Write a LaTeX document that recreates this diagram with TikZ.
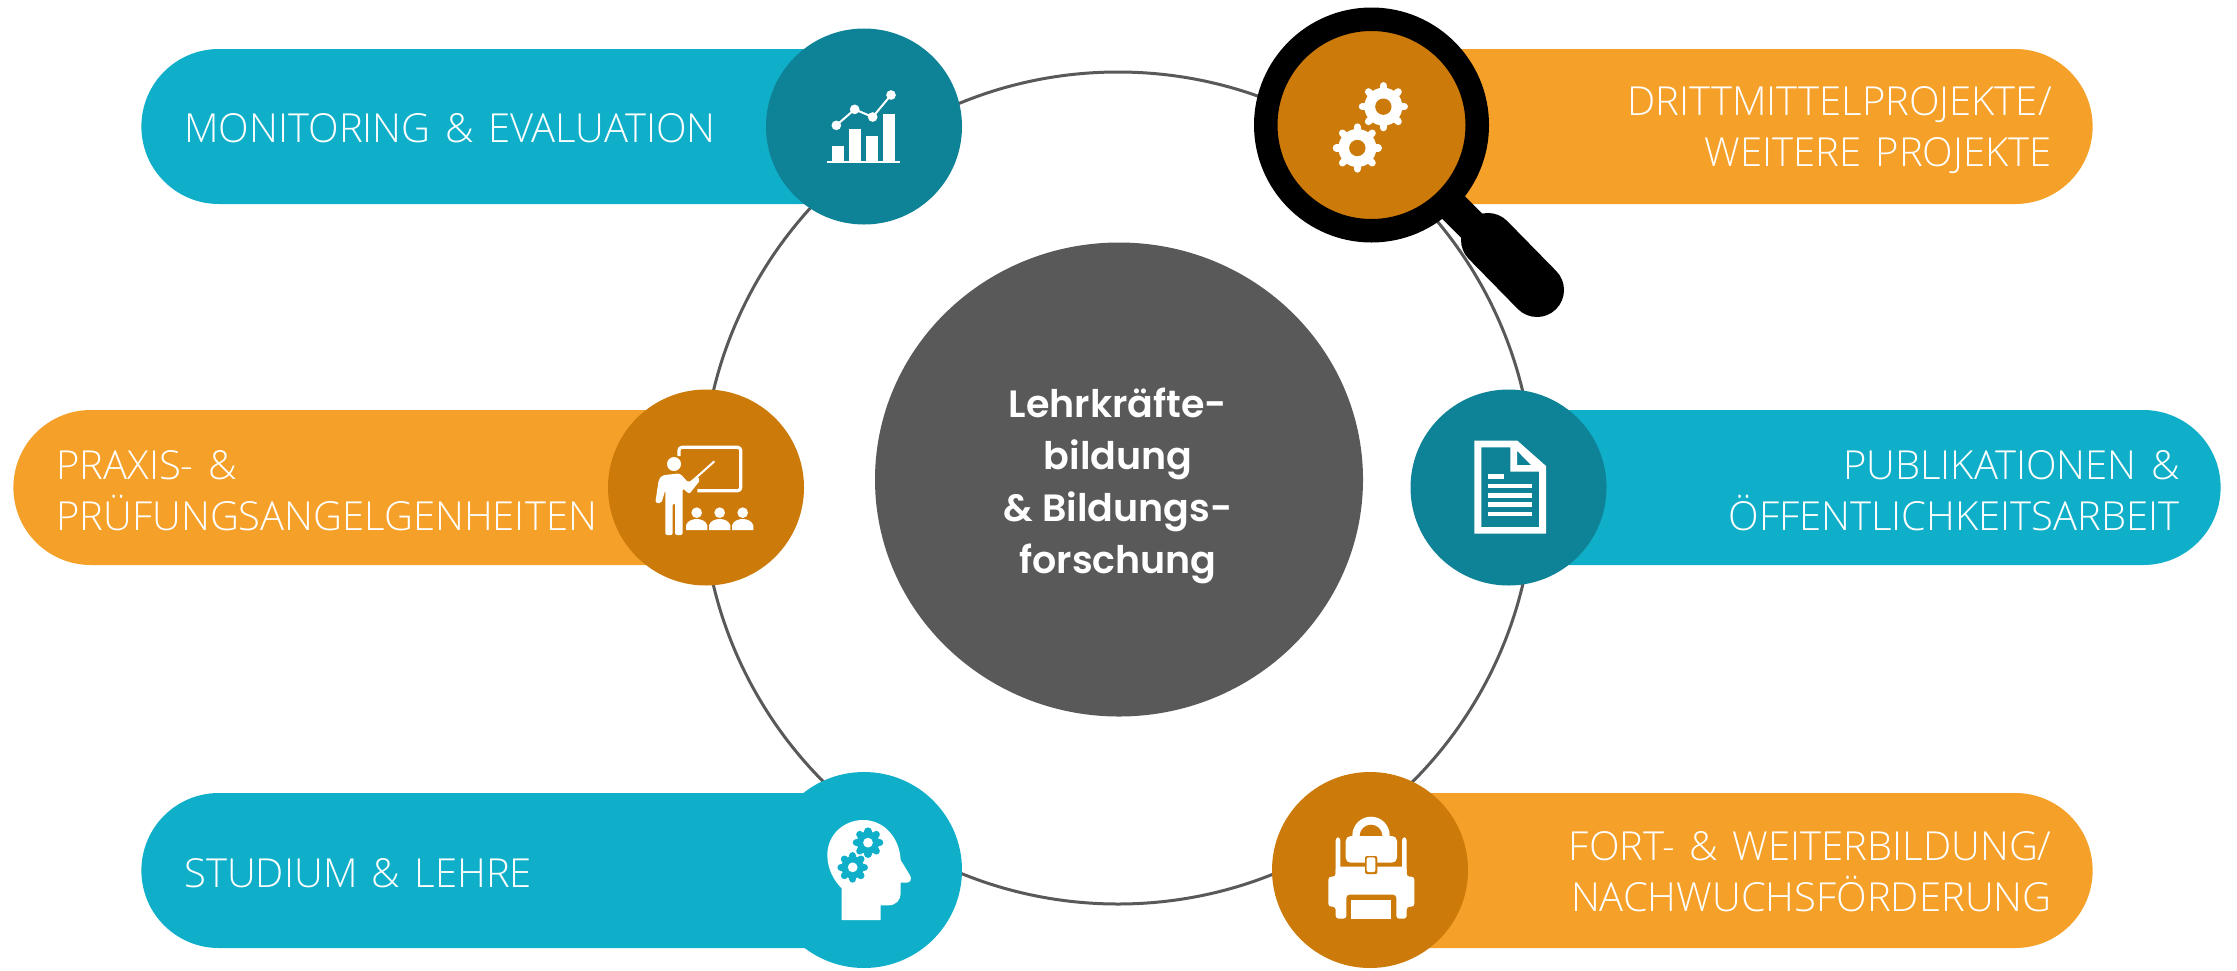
\documentclass[tikz,border=0pt]{standalone}
\usepackage{fontspec}
\usetikzlibrary{shapes.geometric}
\setmainfont{Open Sans Light}[BoldFont={Open Sans Bold}]
\newfontfamily\hubfont{Poppins SemiBold}
\newcommand{\lblfont}{\fontsize{20}{25.5}\selectfont\setlength{\spaceskip}{0.36em}}
\definecolor{teal1}{HTML}{10AFC9}
\definecolor{teal2}{HTML}{0E8296}
\definecolor{orange1}{HTML}{F5A028}
\definecolor{orange2}{HTML}{CC7A09}
\definecolor{gray1}{HTML}{595959}
\tikzset{
  pill/.style={rectangle,rounded corners=38.7pt,minimum height=77.5pt,inner sep=0pt,fill=#1},
  disc/.style={circle,minimum size=98pt,inner sep=0pt,fill=#1},
  lbl/.style={text=white,inner sep=0pt,font=\lblfont},
  zc/.style 2 args={shift={(#1,#2)},x=0.16667pt,y=-0.16667pt},
}
\newcommand{\gearicon}[6]{% x y body outer gearcolor holecolor
  \begin{scope}[shift={(#1,#2)}]
    \fill[#5] (0,0) circle (#3);
    \foreach \a in {0,45,...,315}{
      \draw[#5,line width=3.6pt,line cap=round] (\a:#3) -- (\a:{#4-10});
    }
    \fill[#6] (0,0) circle ({#3*0.43});
  \end{scope}
}
\begin{document}
\begin{tikzpicture}[x=0.5pt,y=-0.5pt]
\useasboundingbox (0,0) rectangle (2237,970);
% ring and hub
\node[circle,draw=gray1,line width=1.5pt,minimum size=416pt,inner sep=0pt] (ring) at (1118,488) {};
\node[ellipse,fill=gray1,minimum width=244pt,minimum height=237pt,inner sep=0pt] (hub) at (1119,479.5) {};
\node[text=white,align=center,inner sep=0pt,font=\fontsize{19}{26}\selectfont\hubfont] (hubtext) at (1118,486) {Lehrkräfte-\\bildung\\\& Bildungs-\\forschung};
% pills
\node[pill=teal1,anchor=west,minimum width=391.5pt] (p1) at (141,126.5) {};
\node[pill=orange1,anchor=east,minimum width=391.5pt] (p2) at (2093,126.5) {};
\node[pill=orange1,anchor=west,minimum width=376.5pt] (p3) at (13,487.5) {};
\node[pill=teal1,anchor=east,minimum width=386.5pt] (p4) at (2221,487.5) {};
\node[pill=teal1,anchor=west,minimum width=391.5pt] (p5) at (141,870.5) {};
\node[pill=orange1,anchor=east,minimum width=391.5pt] (p6) at (2093,870.5) {};
% discs
\node[disc=teal2] (d1) at (864,126.5) {};
\node[disc=orange2] (d3) at (706,487.5) {};
\node[disc=teal2] (d4) at (1508.5,487.5) {};
\node[disc=teal1] (d5) at (864,870) {};
\node[disc=orange2] (d6) at (1370,870) {};
% labels
\node[lbl,anchor=west] (t1) at (184,128) {MONITORING \& EVALUATION};
\node[lbl,anchor=east,align=right] (t2) at (2052,130) {DRITTMITTELPROJEKTE/\\WEITERE PROJEKTE};
\node[lbl,anchor=west,align=left] (t3) at (56,491) {PRAXIS- \&\\PRÜFUNGSANGELGENHEITEN};
\node[lbl,anchor=east,align=right] (t4) at (2180,491) {PUBLIKATIONEN \&\\ÖFFENTLICHKEITSARBEIT};
\node[lbl,anchor=west] (t5) at (184,873) {STUDIUM \& LEHRE};
\node[lbl,anchor=east,align=right] (t6) at (2052,872) {FORT- \& WEITERBILDUNG/\\NACHWUCHSFÖRDERUNG};
% magnifier
\draw[black,line width=16pt] (1440,194) -- (1475,229);
\draw[black,line width=27pt,line cap=round] (1488,240) -- (1537,290);
\node[circle,fill=orange2,draw=black,line width=11.75pt,minimum size=105.75pt,inner sep=0pt,outer sep=0pt] (d2) at (1371.5,125) {};
% chart icon
\begin{scope}[zc={740}{0}]
  \fill[white] (262,483) rectangle (480,489);
  \fill[white] (276,437) rectangle (311,484);
  \fill[white] (327,387) rectangle (362,484);
  \fill[white] (378,409) rectangle (413,484);
  \fill[white] (429,343) rectangle (465,484);
  \draw[white,line width=1pt] (289,376) -- (344,328) -- (398,351) -- (453,285);
  \foreach \p in {(289,376),(344,328),(398,351),(453,285)} \fill[white] \p circle (14.5);
\end{scope}
% gears in the magnifier
\begin{scope}[zc={1240}{0}]
  \gearicon{430}{320}{57}{73}{white}{orange2}
  \gearicon{352}{444}{57}{73}{white}{orange2}
\end{scope}
% teacher icon
\begin{scope}[zc={600}{380}]
  \draw[white,line width=1.6pt,rounded corners=1.5pt] (237,228) -- (237,202) -- (422,202) -- (422,332) -- (292,332);
  \fill[white] (222,252) circle (21);
  \fill[white,rounded corners=1pt] (186,286) -- (240,280) -- (265,308) -- (290,288) -- (301,300) -- (268,342) -- (248,325) -- (248,465) -- (225,465) -- (225,370) -- (218,370) -- (218,465) -- (196,465) -- (196,330) -- (184,370) -- (166,368) -- (176,300) -- cycle;
  \draw[white,line width=1pt,line cap=round] (285,296) -- (342,245);
  \foreach \c in {290,359,428}{
    \fill[white] (\c,398) circle (16);
    \fill[white] ({\c-32},450) -- ({\c-32},436) .. controls ({\c-28},422) and ({\c-12},417) .. (\c,417) .. controls ({\c+12},417) and ({\c+28},422) .. ({\c+32},436) -- ({\c+32},450) -- cycle;
  }
\end{scope}
% document icon
\begin{scope}[zc={1400}{380}]
  \fill[white,even odd rule] (223,182) -- (352,182) -- (438,258) -- (438,461) -- (223,461) -- cycle
     (244,202) -- (331,202) -- (331,275) -- (417,275) -- (417,441) -- (244,441) -- cycle
     (351,212) -- (393,255) -- (351,255) -- cycle;
  \fill[white] (264,282) rectangle (311,297);
  \foreach \y in {311,339,367,395} \fill[white] (264,\y) rectangle (396,\y+14);
\end{scope}
% head icon
\begin{scope}[zc={780}{760}]
  \fill[white] (185,480) -- (302,480) -- (302,436) -- (325,436) .. controls (350,436) and (362,418) .. (362,400) -- (362,368) -- (380,368) .. controls (392,368) and (396,355) .. (390,346) -- (362,300) .. controls (358,230) and (310,180) .. (250,180) .. controls (190,180) and (142,225) .. (142,285) .. controls (142,325) and (160,360) .. (185,385) -- cycle;
  \gearicon{264}{248}{34}{45}{teal1}{white}
  \gearicon{218}{322}{34}{45}{teal1}{white}
\end{scope}
% backpack icon
\begin{scope}[zc={1265}{760}]
  \fill[white] (262,235) -- (262,226) arc[start angle=180,end angle=360,radius=56] -- (374,235) -- cycle;
  \fill[orange2] (284,228) arc[start angle=180,end angle=360,radius=34] -- cycle;
  \fill[white,rounded corners=1.5pt] (212,350) -- (212,232) -- (226,232) -- (226,350) -- cycle;
  \fill[white,rounded corners=1.5pt] (411,350) -- (411,232) -- (425,232) -- (425,350) -- cycle;
  \fill[white,rounded corners=1.5pt] (212,320) -- (425,320) -- (425,350) -- (448,350) -- (448,440) -- (425,440) -- (425,476) -- (394,476) -- (394,404) -- (244,404) -- (244,476) -- (212,476) -- (212,440) -- (190,440) -- (190,350) -- (212,350) -- cycle;
  \fill[white,rounded corners=2.5pt] (242,228) -- (396,228) -- (396,308) -- (242,308) -- cycle;
  \fill[orange2,rounded corners=1pt] (300,288) rectangle (337,342);
  \fill[white,rounded corners=1pt] (305,292) rectangle (331,336);
  \fill[white] (258,420) rectangle (378,476);
\end{scope}
\end{tikzpicture}
\end{document}
